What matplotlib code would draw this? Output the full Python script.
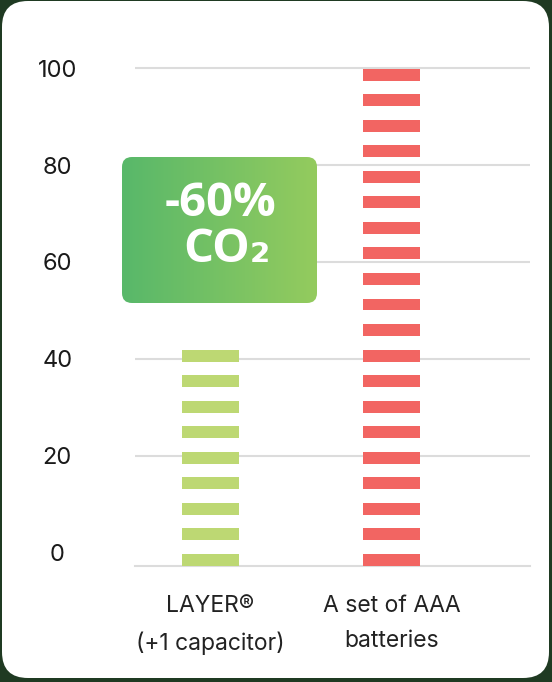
import numpy as np
import matplotlib
matplotlib.use('Agg')
import matplotlib.pyplot as plt
from matplotlib.patches import FancyBboxPatch
from matplotlib.colors import LinearSegmentedColormap

# chart data
categories = ['LAYER®\n(+1 capacitor)', 'A set of AAA\nbatteries']
values = [42, 100]
bar_colors = ['#bdd873', '#f26562']
yticks = [0, 20, 40, 60, 80, 100]
badge_lines = ['-60%', 'CO₂']

# stripe geometry (data units)
base = -2.7
period = 5.27
stripe_h = 2.47

fig = plt.figure(figsize=(5.52, 6.82), dpi=100)
fig.patch.set_facecolor('#1f3a22')

# white card behind the chart
bg = fig.add_axes([0, 0, 1, 1], zorder=0)
card = FancyBboxPatch((2, 1), 547, 677, boxstyle='round,pad=0,rounding_size=26',
                      fc='white', ec='none')
bg.add_patch(card)
bg.set_xlim(0, 552)
bg.set_ylim(682, 0)
bg.axis('off')

ax = fig.add_axes([135 / 552, 116 / 682, 395 / 552, 512.5 / 682], zorder=2)
ax.patch.set_alpha(0)

for i, (v, c) in enumerate(zip(values, bar_colors)):
    n = int(np.floor((v - stripe_h - base) / period + 1e-6)) + 1
    bottoms = base + period * np.arange(n)
    ax.bar(np.full(n, i), stripe_h, width=0.315, bottom=bottoms, color=c, zorder=3)

for y in yticks[1:]:
    ax.axhline(y, color='#dcdcdc', lw=1.5, zorder=1)

ax.set_xlim(-0.417, 1.765)
ax.set_ylim(base, 103)
for s in ['top', 'right', 'left']:
    ax.spines[s].set_visible(False)
ax.spines['bottom'].set_color('#dcdcdc')
ax.spines['bottom'].set_linewidth(1.5)

ax.set_yticks(yticks)
ax.tick_params(axis='y', length=0, pad=56, labelsize=17, labelcolor='#1a1a1a')
for lbl in ax.get_yticklabels():
    lbl.set_horizontalalignment('center')
    lbl.set_fontfamily(['Inter', 'DejaVu Sans'])

ax.set_xticks([0, 1], categories)
ax.tick_params(axis='x', length=0, pad=21, labelsize=16.5, labelcolor='#222222')
for lbl in ax.get_xticklabels():
    lbl.set_linespacing(1.75)
    lbl.set_fontfamily(['Inter', 'DejaVu Sans'])

# green gradient badge
ov = fig.add_axes([0, 0, 1, 1], zorder=5)
cmap = LinearSegmentedColormap.from_list('badge', ['#58b86a', '#94cb5e'])
grad = np.linspace(0, 1, 256).reshape(1, -1)
im = ov.imshow(grad, extent=(122, 317, 303, 157), cmap=cmap, aspect='auto')
box = FancyBboxPatch((122, 157), 195, 146, boxstyle='round,pad=0,rounding_size=10',
                     fc='none', ec='none', transform=ov.transData)
ov.add_patch(box)
im.set_clip_path(box)
ov.text(221, 203, badge_lines[0], ha='center', va='center', fontsize=34,
        weight='bold', color='white', family=['Open Sans', 'DejaVu Sans'])
ov.text(227, 250, badge_lines[1], ha='center', va='center', fontsize=34,
        weight='bold', color='white', family=['Open Sans', 'DejaVu Sans'])
ov.set_xlim(0, 552)
ov.set_ylim(682, 0)
ov.axis('off')

fig.savefig('out.png', dpi=100, facecolor=fig.get_facecolor())
